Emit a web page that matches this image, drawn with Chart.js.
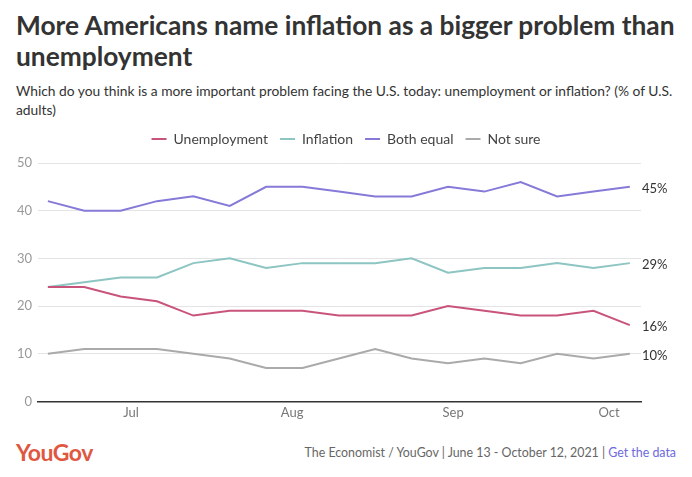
<!DOCTYPE html>
<html>
<head>
<meta charset="utf-8">
<script src="https://cdn.jsdelivr.net/npm/chart.js@4.4.1/dist/chart.umd.min.js"></script>
<style>
  body { margin: 0; background: #fff; font-family: Lato, sans-serif; }
  #wrap { position: relative; width: 692px; height: 477px; overflow: hidden; }
  h1 { position: absolute; left: 16px; top: 10px; margin: 0; width: 672px;
       font-size: 26.3px; line-height: 31px; font-weight: 700; color: #333; }
  #sub { position: absolute; left: 16px; top: 81px; width: 672px;
         font-size: 13.8px; line-height: 19px; color: #333; }
  #chartBox { position: absolute; left: 0; top: 120px; width: 692px; height: 305px; }
  #logo { position: absolute; left: 16px; top: 438px; font-size: 23px; font-weight: 700;
          color: #e0573f; letter-spacing: -0.5px; }
  #src { position: absolute; right: 16px; top: 445px; font-size: 12.4px; color: #666; }
  #src a { color: #6d69e0; text-decoration: none; }
</style>
</head>
<body>
<div id="wrap">
  <h1>More Americans name inflation as a bigger problem than unemployment</h1>
  <div id="sub">Which do you think is a more important problem facing the U.S. today: unemployment or inflation? (% of U.S. adults)</div>
  <div id="chartBox"><canvas id="chart"></canvas></div>
  <div id="logo">YouGov</div>
  <div id="src">The Economist / YouGov | June 13 - October 12, 2021 | <a href="#">Get the data</a></div>
</div>
<script>
// poll dates (as plotted) and values, % of U.S. adults
const pollDates = ["2021-06-15", "2021-06-22", "2021-06-29", "2021-07-06", "2021-07-13",
  "2021-07-20", "2021-07-27", "2021-08-03", "2021-08-10", "2021-08-17", "2021-08-24",
  "2021-08-31", "2021-09-07", "2021-09-14", "2021-09-21", "2021-09-28", "2021-10-05"];
const unemployment = [24, 24, 22, 21, 18, 19, 19, 19, 18, 18, 18, 20, 19, 18, 18, 19, 16];
const inflation    = [24, 25, 26, 26, 29, 30, 28, 29, 29, 29, 30, 27, 28, 28, 29, 28, 29];
const bothEqual    = [42, 40, 40, 42, 43, 41, 45, 45, 44, 43, 43, 45, 44, 46, 43, 44, 45];
const notSure      = [10, 11, 11, 11, 10, 9, 7, 7, 9, 11, 9, 8, 9, 8, 10, 9, 10];

const monthTicks = ["2021-07-01", "2021-08-01", "2021-09-01", "2021-10-01"];
const monthLabels = ["Jul", "Aug", "Sep", "Oct"];

const DAY = 86400000;
const origin = Date.UTC(2021, 6, 1);
function dayOf(s) {
  const p = s.split("-").map(Number);
  return (Date.UTC(p[0], p[1] - 1, p[2]) - origin) / DAY;
}
const xDays = pollDates.map(dayOf);
const tickDays = monthTicks.map(dayOf);

function series(label, values, color) {
  return {
    label,
    data: values.map((v, i) => ({ x: xDays[i], y: v })),
    borderColor: color,
    backgroundColor: color,
    borderWidth: 2,
    pointRadius: 0,
    tension: 0,
  };
}

// labels with the latest value, right of the plot
const endLabels = {
  id: "endLabels",
  afterDatasetsDraw(chart) {
    const ctx = chart.ctx;
    ctx.save();
    ctx.font = "13px Lato";
    ctx.fillStyle = "#333";
    ctx.textBaseline = "middle";
    chart.data.datasets.forEach((ds, i) => {
      const pts = chart.getDatasetMeta(i).data;
      const last = pts[pts.length - 1];
      const v = ds.data[ds.data.length - 1].y;
      ctx.fillText(v + "%", chart.chartArea.right + 1, last.y + 2);
    });
    ctx.restore();
  },
};

// extra room under the legend
const legendGap = {
  id: "legendGap",
  beforeInit(chart) {
    const fit = chart.legend.fit;
    chart.legend.fit = function () {
      fit.bind(chart.legend)();
      this.height += 7;
    };
  },
};

new Chart(document.getElementById("chart"), {
  type: "line",
  data: {
    datasets: [
      series("Unemployment", unemployment, "#c9547b"),
      series("Inflation", inflation, "#8cc5c2"),
      series("Both equal", bothEqual, "#857ad8"),
      series("Not sure", notSure, "#aaaaaa"),
    ],
  },
  options: {
    responsive: true,
    maintainAspectRatio: false,
    animation: false,
    layout: { padding: 0 },
    plugins: {
      tooltip: { enabled: false },
      legend: {
        position: "top",
        labels: {
          usePointStyle: true,
          pointStyle: "line",
          pointStyleWidth: 15,
          boxHeight: 8,
          color: "#444",
          font: { family: "Lato", size: 14 },
          padding: 12,
        },
      },
    },
    scales: {
      x: {
        type: "linear",
        min: -17.9,
        max: 98.15,
        afterBuildTicks(axis) {
          axis.ticks = tickDays.map((d) => ({ value: d }));
        },
        ticks: {
          autoSkip: false,
          maxRotation: 0,
          color: "#777",
          font: { family: "Lato", size: 13 },
          padding: 4,
          callback: (v) => monthLabels[tickDays.indexOf(v)],
        },
        grid: { display: false, drawTicks: false },
        border: { color: "#333", width: 1.5 },
      },
      y: {
        min: 0,
        max: 50,
        afterFit(axis) { axis.width = 38; },
        ticks: {
          stepSize: 10,
          color: "#999",
          font: { family: "Lato", size: 13 },
          padding: 6,
        },
        grid: { color: "#e4e4e4", drawTicks: false, lineWidth: 1 },
        border: { display: false },
      },
      yRight: {
        position: "right",
        min: 0,
        max: 50,
        afterFit(axis) { axis.width = 51; },
        ticks: { display: false },
        grid: { display: false, drawTicks: false },
        border: { display: false },
      },
    },
  },
  plugins: [endLabels, legendGap],
});
</script>
</body>
</html>
